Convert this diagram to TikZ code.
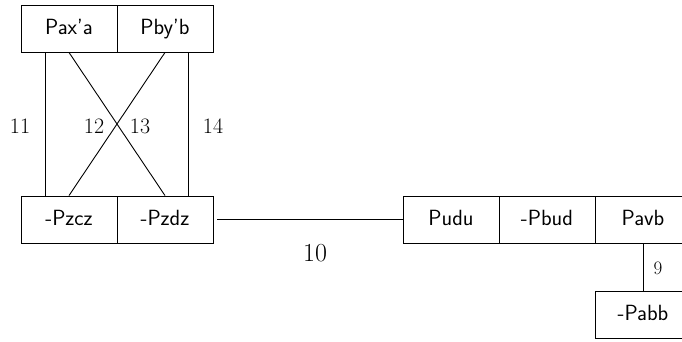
\documentclass[tikz,border=0pt]{standalone}
\begin{document}
\begin{tikzpicture}[x=1pt,y=-1pt,
  cell/.style={draw, line width=0.9pt, minimum width=96pt, minimum height=47pt, inner sep=0pt,
    text height=15pt, text depth=4pt, font=\sffamily\fontsize{22}{26}\selectfont},
  conn/.style={line width=0.9pt},
  num/.style={inner sep=0pt, font=\fontsize{22}{26}\selectfont}]
\useasboundingbox (0,0) rectangle (682,341);
\clip (0,0) rectangle (682,341);
% top pair
\node[cell] (pa) at (69,28.5) {Pax'a};
\node[cell] (pb) at (165,28.5) {Pby'b};
% bottom-left pair
\node[cell] (pzcz) at (69,219.5) {-Pzcz};
\node[cell] (pzdz) at (165,219.5) {-Pzdz};
% right group
\node[cell] (pudu) at (451,219.5) {Pudu};
\node[cell] (pbud) at (547,219.5) {-Pbud};
\node[cell] (pavb) at (643,219.5) {Pavb};
\node[cell] (pabb) at (643,315) {-Pabb};
% connectors
\draw[conn] ([xshift=-24pt]pa.south) -- ([xshift=-24pt]pzcz.north);
\draw[conn] (pa.south) -- (pzdz.north);
\draw[conn] (pb.south) -- (pzcz.north);
\draw[conn] ([xshift=23.5pt]pb.south) -- ([xshift=23.5pt]pzdz.north);
\draw[conn, shorten <=4pt] (pzdz.east) -- (pudu.west);
\draw[conn] (pavb.south) -- (pabb.north);
% labels
\node[num] (l11) at (20,126) {11};
\node[num] (l12) at (94,126) {12};
\node[num] (l13) at (140,126) {13};
\node[num] (l14) at (213,126) {14};
\node[num, font=\fontsize{26}{31}\selectfont] (l10) at (315,253) {10};
\node[num, font=\fontsize{19}{23}\selectfont] (l9) at (658,268) {9};
\end{tikzpicture}
\end{document}
